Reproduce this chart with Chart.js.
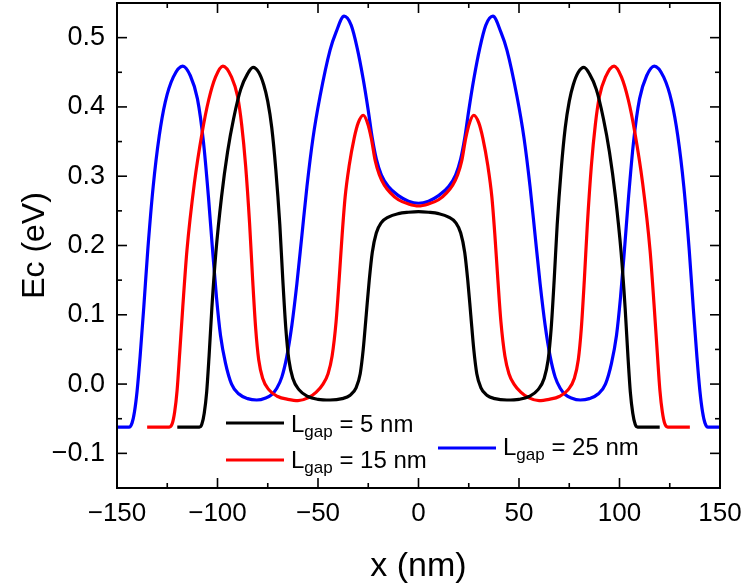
<!DOCTYPE html>
<html>
<head>
<meta charset="utf-8">
<script src="https://cdn.jsdelivr.net/npm/chart.js@4.4.1/dist/chart.umd.min.js"></script>
<style>
html,body{margin:0;padding:0;background:#fff;}
canvas{display:block;}
</style>
</head>
<body>
<canvas id="c" width="747" height="585"></canvas>
<script>
// ---- data ----
const gapValues = [5, 15, 25];

const blackX = [-120,-109,-107.8,-106.6,-105.4,-104.2,-102.8,-100.8,-98,-95,-92,-88.5,-85,-82.3,-79.5,-77,-75,-73,-71,-69,-67.5,-66,-64.5,-62.5,-59.5,-55,-50,-44,-38,-34,-31,-29,-27.5,-26,-24.5,-23,-21,-18.5,-15,-10,-5,0,
  5,10,15,18.5,21,23,24.5,26,27.5,29,31,34,38,44,50,55,59.5,62.5,64.5,66,67.5,69,71,73,75,77,79.5,82.3,85,88.5,92,95,98,100.8,102.8,104.2,105.4,106.6,107.8,109,120];
const blackY = [-0.062,-0.062,-0.058,-0.042,-0.012,0.04,0.11,0.19,0.27,0.335,0.383,0.425,0.448,0.457,0.45,0.432,0.408,0.37,0.31,0.23,0.15,0.08,0.035,0.008,-0.008,-0.018,-0.022,-0.023,-0.021,-0.016,-0.005,0.015,0.05,0.1,0.15,0.19,0.218,0.233,0.241,0.246,0.248,0.249,
  0.248,0.246,0.241,0.233,0.218,0.19,0.15,0.1,0.05,0.015,-0.005,-0.016,-0.021,-0.023,-0.022,-0.018,-0.008,0.008,0.035,0.08,0.15,0.23,0.31,0.37,0.408,0.432,0.45,0.457,0.448,0.425,0.383,0.335,0.27,0.19,0.11,0.04,-0.012,-0.042,-0.058,-0.062,-0.062];

const redX = [-135,-124,-122.5,-121.3,-120.1,-118.8,-117.3,-115.2,-111.5,-107.7,-104.4,-101,-97.3,-93,-90,-88,-86,-84,-82.5,-81,-79.5,-77.5,-74.5,-70,-65,-60,-55,-51,-47.5,-45,-43,-41,-39.5,-38,-36.5,-34.5,-32,-30,-27.5,-25.5,-23.5,-21.5,-19.5,-17,-14,-10,-5,0,
  5,10,14,17,19.5,21.5,23.5,25.5,27.5,30,32,34.5,36.5,38,39.5,41,43,45,47.5,51,55,60,65,70,74.5,77.5,79.5,81,82.5,84,86,88,90,93,97.3,101,104.4,107.7,111.5,115.2,117.3,118.8,120.1,121.3,122.5,124,135];
const redY = [-0.062,-0.062,-0.057,-0.04,-0.009,0.045,0.11,0.193,0.29,0.362,0.41,0.443,0.459,0.443,0.415,0.375,0.315,0.23,0.15,0.08,0.035,0.008,-0.008,-0.018,-0.022,-0.024,-0.02,-0.012,0.0,0.015,0.04,0.09,0.15,0.215,0.27,0.315,0.355,0.377,0.388,0.378,0.355,0.322,0.302,0.287,0.276,0.266,0.26,0.257,
  0.26,0.266,0.276,0.287,0.302,0.322,0.355,0.378,0.388,0.377,0.355,0.315,0.27,0.215,0.15,0.09,0.04,0.015,0.0,-0.012,-0.02,-0.024,-0.022,-0.018,-0.008,0.008,0.035,0.08,0.15,0.23,0.315,0.375,0.415,0.443,0.459,0.443,0.41,0.362,0.29,0.193,0.11,0.045,-0.009,-0.04,-0.057,-0.062,-0.062];

const blueX = [-150,-144,-142.5,-141.3,-140,-138.5,-136.7,-134.7,-132,-129,-126,-122,-117.3,-113.5,-110,-107,-104.5,-102.5,-100.5,-98.5,-96,-93,-89.5,-85,-80.5,-76,-73,-70.5,-68,-65.5,-63,-60.5,-58,-55.5,-52.5,-49,-44,-41,-37,-33.5,-30.5,-27.5,-25,-23,-21,-18.5,-15,-10,-5,0,
  5,10,15,18.5,21,23,25,27.5,30.5,33.5,37,41,44,49,52.5,55.5,58,60.5,63,65.5,68,70.5,73,76,80.5,85,89.5,93,96,98.5,100.5,102.5,104.5,107,110,113.5,117.3,122,126,129,132,134.7,136.7,138.5,140,141.3,142.5,144,150];
const blueY = [-0.062,-0.062,-0.056,-0.04,-0.01,0.04,0.11,0.193,0.285,0.358,0.407,0.443,0.459,0.445,0.412,0.35,0.27,0.195,0.125,0.07,0.03,0.0,-0.014,-0.021,-0.023,-0.02,-0.015,-0.006,0.01,0.04,0.085,0.145,0.215,0.285,0.355,0.415,0.482,0.508,0.531,0.518,0.485,0.44,0.395,0.355,0.325,0.302,0.285,0.272,0.264,0.261,
  0.264,0.272,0.285,0.302,0.325,0.355,0.395,0.44,0.485,0.518,0.531,0.508,0.482,0.415,0.355,0.285,0.215,0.145,0.085,0.04,0.01,-0.006,-0.015,-0.02,-0.023,-0.021,-0.014,0.0,0.03,0.07,0.125,0.195,0.27,0.35,0.412,0.445,0.459,0.443,0.407,0.358,0.285,0.193,0.11,0.04,-0.01,-0.04,-0.056,-0.062,-0.062];

const xTicks = [-150,-100,-50,0,50,100,150];
const yTicks = [-0.1,0,0.1,0.2,0.3,0.4,0.5];
const xMinorTicks = [-125,-75,-25,25,75,125];
const yMinorTicks = [-0.05,0.05,0.15,0.25,0.35,0.45];

const seriesColors = ['#000000', '#ff0000', '#0000ff'];
// ---------------------------------------

const FONT = '"Liberation Sans", Arial, Helvetica, sans-serif';
const zip = (xs, ys) => xs.map((x, i) => ({x: x, y: ys[i]}));
const seriesXY = [zip(blackX, blackY), zip(redX, redY), zip(blueX, blueY)];
const minus = s => s.replace('-', '\u2212');

const datasets = seriesXY.map((d, i) => ({
  label: 'Lgap = ' + gapValues[i] + ' nm',
  data: d,
  showLine: true,
  borderColor: seriesColors[i],
  backgroundColor: seriesColors[i],
  borderWidth: 3.2,
  pointRadius: 0,
  cubicInterpolationMode: 'monotone',
  fill: false
}));

const framePlugin = {
  id: 'frame',
  afterDatasetsDraw(chart) {
    const {ctx, chartArea: {left, right, top, bottom}, scales: {x, y}} = chart;
    ctx.save();
    ctx.strokeStyle = '#000';
    ctx.lineWidth = 1.6;
    const tick = (x1, y1, x2, y2) => { ctx.beginPath(); ctx.moveTo(x1, y1); ctx.lineTo(x2, y2); ctx.stroke(); };
    xTicks.forEach(v => { const p = x.getPixelForValue(v); tick(p, bottom, p, bottom - 10); tick(p, top, p, top + 10); });
    xMinorTicks.forEach(v => { const p = x.getPixelForValue(v); tick(p, bottom, p, bottom - 5); tick(p, top, p, top + 5); });
    yTicks.forEach(v => { const p = y.getPixelForValue(v); tick(left, p, left + 10, p); tick(right, p, right - 10, p); });
    yMinorTicks.forEach(v => { const p = y.getPixelForValue(v); tick(left, p, left + 5, p); tick(right, p, right - 5, p); });
    ctx.lineWidth = 2;
    ctx.strokeRect(left, top, right - left, bottom - top);
    ctx.restore();
  }
};

const legendPlugin = {
  id: 'customLegend',
  afterDraw(chart) {
    const ctx = chart.ctx;
    const spots = [
      {lx: 226, ly: 423, tx: 291, ty: 432},
      {lx: 226, ly: 460, tx: 291, ty: 468},
      {lx: 438, ly: 448, tx: 503, ty: 455}
    ];
    ctx.save();
    spots.forEach((s, i) => {
      ctx.strokeStyle = seriesColors[i];
      ctx.lineWidth = 3.2;
      ctx.beginPath(); ctx.moveTo(s.lx, s.ly); ctx.lineTo(s.lx + 58, s.ly); ctx.stroke();
      ctx.fillStyle = '#000';
      ctx.textBaseline = 'alphabetic';
      ctx.textAlign = 'left';
      let cx = s.tx;
      ctx.font = '24px ' + FONT;
      ctx.fillText('L', cx, s.ty);
      cx += ctx.measureText('L').width;
      ctx.font = '17px ' + FONT;
      ctx.fillText('gap', cx, s.ty + 5);
      cx += ctx.measureText('gap').width;
      ctx.font = '24px ' + FONT;
      ctx.fillText(' = ' + gapValues[i] + ' nm', cx, s.ty);
    });
    ctx.restore();
  }
};

new Chart(document.getElementById('c'), {
  type: 'scatter',
  data: {datasets: datasets},
  plugins: [framePlugin, legendPlugin],
  options: {
    responsive: false,
    animation: false,
    events: [],
    layout: {padding: {top: 3, right: 27, left: 0, bottom: 0}},
    plugins: {legend: {display: false}, tooltip: {enabled: false}},
    scales: {
      x: {
        type: 'linear', min: -150, max: 150,
        afterBuildTicks: s => { s.ticks = xTicks.map(v => ({value: v})); },
        afterFit: s => { s.height = 97; s.paddingLeft = 0; s.paddingRight = 0; },
        grid: {display: false, drawTicks: false},
        border: {display: false},
        ticks: {
          autoSkip: false, maxRotation: 0, padding: 10, color: '#000',
          font: {size: 26, family: FONT},
          callback: v => minus(String(v))
        },
        title: {display: true, text: 'x (nm)', color: '#000', font: {size: 34, family: FONT, lineHeight: 1}, padding: {top: 0, bottom: 1}}
      },
      y: {
        type: 'linear', min: -0.15, max: 0.55,
        afterBuildTicks: s => { s.ticks = yTicks.map(v => ({value: v})); },
        afterFit: s => { s.width = 117; s.paddingTop = 0; s.paddingBottom = 0; },
        grid: {display: false, drawTicks: false},
        border: {display: false},
        ticks: {
          autoSkip: false, padding: 12, color: '#000',
          font: {size: 27, family: FONT},
          callback: v => minus(Number(v).toFixed(1))
        },
        title: {display: true, text: 'Ec (eV)', color: '#000', font: {size: 32, family: FONT, lineHeight: 1}, padding: {top: 19, bottom: 0}}
      }
    }
  }
});
</script>
</body>
</html>
